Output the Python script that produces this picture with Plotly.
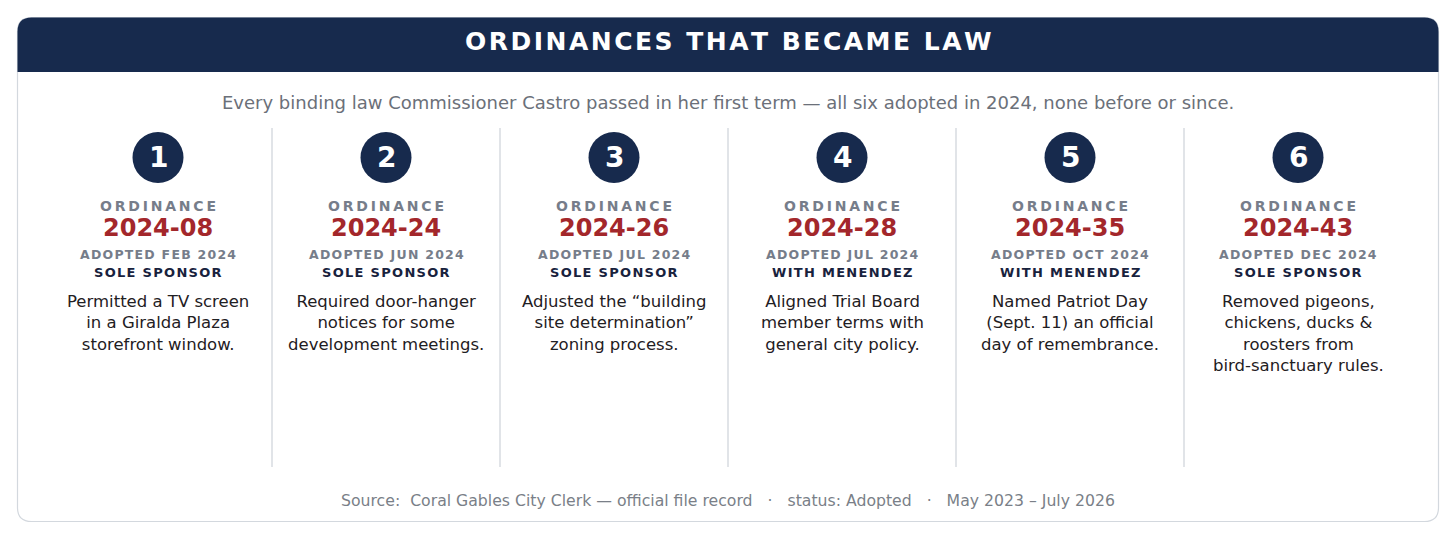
import plotly.graph_objects as go

# Data
title = "ORDINANCES THAT BECAME LAW"
subtitle = ("Every binding law Commissioner Castro passed in her first term \u2014 "
            "all six adopted in 2024, none before or since.")
footer = ("Source:\u00a0\u00a0Coral Gables City Clerk \u2014 official file record"
          "\u00a0\u00a0\u00a0\u00b7\u00a0\u00a0\u00a0status: Adopted"
          "\u00a0\u00a0\u00a0\u00b7\u00a0\u00a0\u00a0May 2023 \u2013 July 2026")

ordinances = ["2024-08", "2024-24", "2024-26", "2024-28", "2024-35", "2024-43"]
adopted = ["FEB 2024", "JUN 2024", "JUL 2024", "JUL 2024", "OCT 2024", "DEC 2024"]
sponsors = ["SOLE SPONSOR", "SOLE SPONSOR", "SOLE SPONSOR",
            "WITH MENENDEZ", "WITH MENENDEZ", "SOLE SPONSOR"]
descriptions = [
    ["Permitted a TV screen", "in a Giralda Plaza", "storefront window."],
    ["Required door-hanger", "notices for some", "development meetings."],
    ["Adjusted the \u201cbuilding", "site determination\u201d", "zoning process."],
    ["Aligned Trial Board", "member terms with", "general city policy."],
    ["Named Patriot Day", "(Sept. 11) an official", "day of remembrance."],
    ["Removed pigeons,", "chickens, ducks &", "roosters from", "bird-sanctuary rules."],
]

W, H = 1456, 540
NAVY = "#172a4d"
RED = "#a3272b"
GRAY = "#767d8a"
FONT = "DejaVu Sans"

# Card geometry (pixel space)
x0, x1, y0, y1, r = 17.5, 1438.5, 17.5, 521.5, 14
head_bottom = 72
col_left, col_w = 44, 228
div_top, div_bottom = 128, 467


def spaced(s, sp="\u200a"):
    return sp.join(s)


def rounded_rect(x0, y0, x1, y1, r):
    return (f"M{x0+r},{y0} L{x1-r},{y0} Q{x1},{y0} {x1},{y0+r} "
            f"L{x1},{y1-r} Q{x1},{y1} {x1-r},{y1} L{x0+r},{y1} "
            f"Q{x0},{y1} {x0},{y1-r} L{x0},{y0+r} Q{x0},{y0} {x0+r},{y0} Z")


shapes = [
    dict(type="path", path=rounded_rect(x0, y0, x1, y1, r),
         fillcolor="white", line=dict(color="#d3d8de", width=1.2), layer="below"),
    dict(type="path",
         path=(f"M{x0},{head_bottom} L{x0},{y0+r} Q{x0},{y0} {x0+r},{y0} "
               f"L{x1-r},{y0} Q{x1},{y0} {x1},{y0+r} L{x1},{head_bottom} Z"),
         fillcolor=NAVY, line=dict(width=0), layer="below"),
]

annotations = [
    dict(x=W / 2, y=41.5, text=spaced(title),
         font=dict(family=FONT, size=25, color="white", weight="bold")),
    dict(x=W / 2, y=102.5, text=subtitle,
         font=dict(family=FONT, size=18, color="#6b7079")),
    dict(x=W / 2, y=500.5, text=footer,
         font=dict(family=FONT, size=15.7, color="#7a7f88")),
]

for i in range(len(ordinances)):
    cx = col_left + col_w * (i + 0.5)
    if i > 0:
        xl = col_left + col_w * i
        shapes.append(dict(type="line", x0=xl, x1=xl, y0=div_top, y1=div_bottom,
                           line=dict(color="#d7dbe1", width=1.5)))
    shapes.append(dict(type="circle", x0=cx - 25.5, x1=cx + 25.5, y0=132, y1=183,
                       fillcolor=NAVY, line=dict(width=0)))
    annotations += [
        dict(x=cx, y=157.5, text=str(i + 1),
             font=dict(family=FONT, size=28, color="white", weight="bold")),
        dict(x=cx, y=206, text=spaced("ORDINANCE", "\u2009"),
             font=dict(family=FONT, size=14, color=GRAY, weight="bold")),
        dict(x=cx, y=228, text=ordinances[i],
             font=dict(family=FONT, size=24, color=RED, weight="bold")),
        dict(x=cx, y=254, text=spaced("ADOPTED " + adopted[i]),
             font=dict(family=FONT, size=12.5, color=GRAY, weight="bold")),
        dict(x=cx, y=272.5, text=spaced(sponsors[i]),
             font=dict(family=FONT, size=13, color="#18223d", weight="bold")),
        dict(x=cx, y=289.5, yanchor="top", text="<br>".join(descriptions[i]),
             font=dict(family=FONT, size=16.5, color="#1f2023")),
    ]

for a in annotations:
    a.setdefault("xref", "x")
    a.setdefault("yref", "y")
    a.setdefault("showarrow", False)
    a.setdefault("yanchor", "middle")
    a.setdefault("xanchor", "center")

fig = go.Figure()
fig.update_layout(
    width=W, height=H,
    margin=dict(l=0, r=0, t=0, b=0),
    paper_bgcolor="white", plot_bgcolor="white",
    xaxis=dict(range=[0, W], visible=False, fixedrange=True),
    yaxis=dict(range=[H, 0], visible=False, fixedrange=True),
    shapes=shapes,
    annotations=annotations,
    showlegend=False,
)

fig.write_html("out.html", config=dict(displayModeBar=False),
               post_script="document.body.style.margin='0';")
